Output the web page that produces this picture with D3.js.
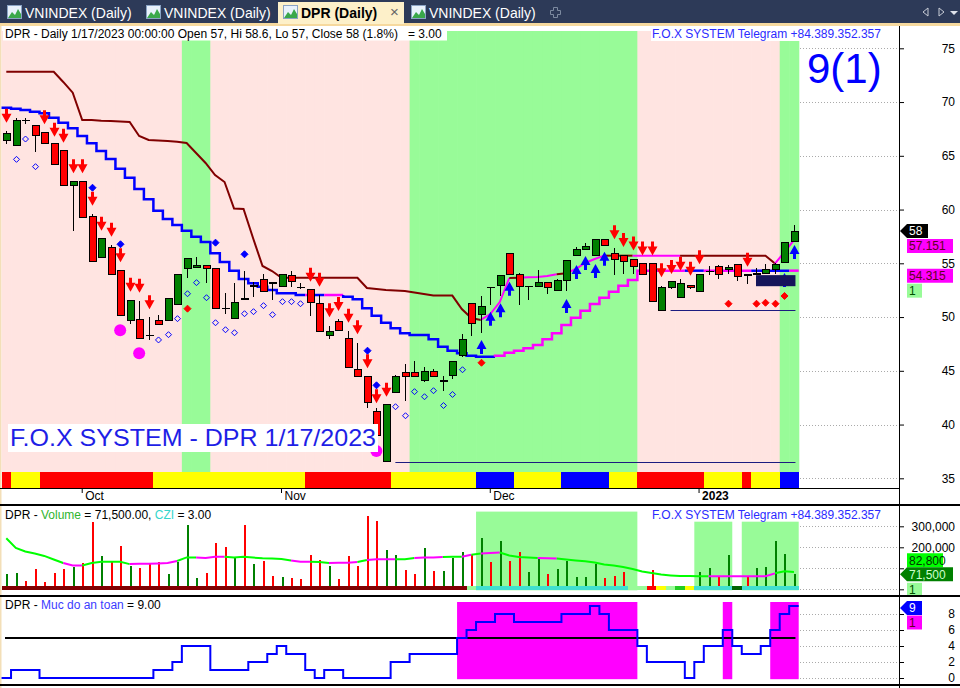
<!DOCTYPE html>
<html lang="en">
<head>
<meta charset="UTF-8">
<title>DPR (Daily)</title>
<script src="https://d3js.org/d3.v7.min.js"></script>
<style>
  body{margin:0;background:#fff;}
  svg{display:block;}
  svg text{font-family:"Liberation Sans",Arial,sans-serif;font-size:12px;}
</style>
</head>
<body>
<div id="chart"></div>
<script>
// trading days shown on the chart
const dates=["2022-09-21","2022-09-22","2022-09-23","2022-09-26","2022-09-27","2022-09-28","2022-09-29","2022-09-30",
"2022-10-03","2022-10-04","2022-10-05","2022-10-06","2022-10-07","2022-10-10","2022-10-11","2022-10-12","2022-10-13","2022-10-14","2022-10-17","2022-10-18","2022-10-19","2022-10-20","2022-10-21","2022-10-24","2022-10-25","2022-10-26","2022-10-27","2022-10-28","2022-10-31",
"2022-11-01","2022-11-02","2022-11-03","2022-11-04","2022-11-07","2022-11-08","2022-11-09","2022-11-10","2022-11-11","2022-11-14","2022-11-15","2022-11-16","2022-11-17","2022-11-18","2022-11-21","2022-11-22","2022-11-23","2022-11-24","2022-11-25","2022-11-28","2022-11-29","2022-11-30",
"2022-12-01","2022-12-02","2022-12-05","2022-12-06","2022-12-07","2022-12-08","2022-12-09","2022-12-12","2022-12-13","2022-12-14","2022-12-15","2022-12-16","2022-12-19","2022-12-20","2022-12-21","2022-12-22","2022-12-23","2022-12-26","2022-12-27","2022-12-28","2022-12-29","2022-12-30",
"2023-01-03","2023-01-04","2023-01-05","2023-01-06","2023-01-09","2023-01-10","2023-01-11","2023-01-12","2023-01-13","2023-01-16","2023-01-17"];

const open=[66.4,65.95,68.3,67.85,67.2,66.1,65.5,62.2,62.6,59.4, 55.5,56.5,54.35,49.7,49.8,48.3,49.7,49.7,51.2,54.55, 54.6,54.8,54.55,50.8,49.9,51.7,52.9,53.5,53.15,52.8, 53.9,52.75,52.6,51.3,48.3,49.6,48.0,45.1,44.5,41.2, 36.55,43.0,44.85,44.85,44.1,44.95,44.05,44.6,46.4,51.3, 50.25,52.75,52.9,55.95,54.0,52.85,52.85,53.25,52.5,53.4, 55.75,56.3,55.75,57.25,55.95,55.75,55.35,54.95,54.95,50.65, 52.75,51.85,52.95,52.4,54.25,54.7,54.4,54.9,53.9,54.0, 54.05,54.45,55.05,57];
const high=[67.3,68.5,68.5,67.85,67.2,66.1,65.5,62.6,62.6,59.6, 57.3,56.7,54.35,51.6,51.5,50.0,50.15,51.75,54.0,55.5, 55.55,54.8,54.55,52.2,53.2,54.3,53.3,54.05,53.3,54.0, 54.3,53.2,52.6,52.05,49.2,49.85,48.7,47.55,44.5,41.5, 41.9,44.6,45.6,45.9,45.4,45.2,44.5,45.9,48.4,51.3, 51.95,52.8,53.9,55.95,54.1,52.85,54.4,53.25,53.5,55.3, 56.5,56.85,57.25,57.3,56.4,55.75,55.4,54.95,54.95,52.9, 53.35,53.55,53.0,54.0,54.75,54.85,54.85,54.9,53.9,54.6, 54.95,55.0,56.95,58.6];
const low=[66.1,65.9,68.0,65.4,66.1,64.2,62.2,58.0,59.25,55.15, 55.5,54.0,50.15,49.4,48.0,47.9,49.3,49.7,51.2,53.6, 54.6,53.2,50.8,50.25,49.9,51.6,51.9,52.4,51.6,52.8, 52.8,52.6,50.1,48.7,48.0,48.75,45.35,44.5,41.5,38.5, 36.55,42.9,42.2,44.4,44.0,44.5,43.15,44.2,46.3,48.2, 48.55,51.15,51.95,54.0,51.15,51.6,52.85,52.1,52.5,52.4, 55.75,56.3,55.75,56.65,53.9,54.0,54.0,53.9,51.45,50.65, 52.6,51.85,52.6,52.4,53.9,53.5,54.05,53.4,53.05,53.9, 54.05,54.0,55.05,57];
const close=[67.1,68.25,68.3,66.9,66.1,64.2,62.2,62.6,59.25,55.15, 57.3,54.0,50.15,51.5,48.0,48.3,49.35,51.75,54.0,55.45, 54.8,54.55,50.8,50.8,51.4,51.7,52.9,52.4,53.15,54.0, 53.35,52.75,51.35,48.7,48.7,48.75,45.35,44.5,42.05,39.0, 41.9,44.5,44.5,44.5,44.95,44.5,44.05,45.9,47.95,49.4, 51.0,52.75,53.9,54.0,52.85,52.85,53.25,52.75,53.4,55.3, 56.3,56.6,57.25,56.65,55.35,55.2,54.7,54.0,51.45,52.75, 53.35,53.15,52.75,54.0,54.25,54.0,54.6,53.8,53.9,54.0, 54.45,54.9,56.95,58];

// trailing stop (dark red / magenta)
const stopLine=[72.82,72.82,72.82,72.82,72.82,72.82,71.87,70.87,68.33,68.33, 68.27,68.24,68.19,68.14,66.84,66.47,66.42,66.38,66.31,66.19, 65.26,64.33,63.21,62.56,60.1,60.05,57.35,54.75,54.28,53.66, 53.66,53.66,53.66,53.66,53.66,53.66,53.66,53.66,52.7,52.61, 52.52,52.47,52.42,52.28,52.14,52.0,52.0,52.0,50.75,49.91, 49.73,50.28,51.4,53.63,53.66,53.7,53.73,53.82,53.98,54.07, 54.47,55.03,55.4,55.71,55.71,55.71,55.71,55.71,55.71,55.71, 55.71,55.71,55.71,55.71,55.71,55.71,55.71,55.71,55.71,55.71, 55.71,54.98,56.05,57.151];
const stopMagenta=[0,0,0,0,0,0,0,0,0,0, 0,0,0,0,0,0,0,0,0,0, 0,0,0,0,0,0,0,0,0,0, 0,0,0,0,0,0,0,0,0,0, 0,0,0,0,0,0,0,0,0,0, 0,1,1,1,0,1,1,1,1,0, 1,1,1,1,0,0,0,1,1,1, 1,1,0,0,0,0,0,0,0,0, 0,0,1,1];
// stepped band line (blue / magenta)
const stepLine=[69.47,69.38,69.26,69.1,68.95,68.54,68.08,67.56,66.84,66.16, 65.45,64.7,63.8,62.96,61.91,60.95,59.89,59.12,58.56,58.03, 57.47,56.98,55.93,55.12,54.31,53.54,53.14,52.82,52.52,52.21, 52.21,52.05,52.05,52.05,52.05,52.05,51.89,51.65,50.81,50.13, 49.47,48.95,48.49,48.33,48.33,47.93,47.24,46.87,46.63,46.4, 46.31,46.31,46.4,46.68,46.87,47.09,47.4,47.93,48.49,49.26, 49.94,50.59,51.21,51.8,52.36,52.92,53.45,54.315,54.315,54.315, 54.315,54.315,54.315,54.315,54.315,54.315,54.315,54.315,54.315,54.315, 54.315,54.315,54.315,54.315];
const stepMagenta=[0,0,0,0,0,0,0,0,0,0, 0,0,0,0,0,0,0,0,0,0, 0,0,0,0,0,0,0,0,0,0, 0,0,1,0,1,1,0,0,0,0, 0,0,0,0,0,0,0,0,0,0, 0,0,1,1,1,1,1,1,1,1, 1,1,1,1,1,1,1,1,1,1, 1,1,0,0,1,1,1,1,1,0, 0,0,0,1];

// background state: runs of green bars, rest pink
const greenRuns=[[19,21],[43,66],[82,83]];
// colour strip under the candles
const trendState="RYYYRRRRRRRRRRRRYYYYYYYYYYYYYYYYRRRRRRRRRYYYYYYYYYBBBBYYYYYBBBBBYYYRRRRRRRYYYYRYYYBB".split("");

// signals: [bar, price]
const downArrows=[[0,68.08],[4,67.93],[5,66.78],[6,66.22],[7,63.37],[8,63.37],[9,60.36],[10,58.03],[11,57.47],[12,55.09],[13,52.36],[14,52.27],[15,50.72],[32,53.29],[33,52.82],[34,49.98],[35,50.56],[36,49.47],[37,48.4],[38,45.23],[39,41.98],[40,42.59],[64,57.23],[65,56.52],[66,56.19],[67,55.73],[68,55.73],[69,53.7],[70,54.0],[71,54.31],[72,53.85],[73,54.91],[78,54.68]];
const upArrows=[[50,47.87],[51,50.5],[52,51.28],[53,53.29],[59,51.68],[60,54.84],[61,55.68],[62,54.93],[63,56.08],[82,54.1],[83,56.7]];
const hollowDiamonds=[[1,64.67],[2,66.56],[3,63.99],[16,47.87],[17,48.36],[18,49.85],[19,52.17],[20,53.2],[21,51.8],[22,49.47],[23,48.82],[24,48.54],[25,50.31],[26,50.5],[27,51.06],[28,50.22],[29,51.43],[30,51.43],[31,51.24],[41,41.66],[42,40.82],[43,43.06],[44,42.59],[45,43.15],[46,41.77],[47,42.8],[48,45.1]];
const blueDots=[[9,62.03],[12,56.77],[22,56.92],[25,55.84],[38,46.87],[39,43.65]];
const redDots=[[19,50.78],[50,45.75],[76,51.24],[79,51.24],[80,51.33],[81,51.24],[82,51.96]];
const magentaDots=[[12,48.77],[14,46.63],[39,37.55]];
const supportLines=[[41,36.55],[70,50.65]];
const darkBox=[79,83,52.87,53.9];

// volume pane
const volume=[73000,78000,40000,97000,35000,78000,97000,105000,127000,322000, 159000,135000,206000,111000,101000,124000,130000,73000,132000,306000, 55000,78000,222000,201000,155000,306000,120000,136000,63000,60000, 55000,50000,163000,140000,111000,50000,159000,111000,349000,327000, 189000,163000,92000,73000,197000,87000,87000,150000,178000,163000, 244000,130000,230000,135000,178000,82000,144000,73000,97000,135000, 59000,59000,120000,54000,63000,82000,4000,6000,92000,8000, 14000,4000,14000,82000,101000,63000,163000,8000,63000,101000, 106000,230000,168000,71500];
const volumeUp=[1,1,0,0,0,0,0,1,0,0, 1,0,0,1,0,0,0,1,1,1, 1,0,0,0,1,0,1,0,0,1, 0,0,0,0,1,0,0,0,0,0, 1,1,0,0,1,0,1,1,1,0, 1,0,1,0,0,1,1,0,1,1, 1,1,1,0,0,0,0,0,0,1, 1,1,0,1,1,0,1,0,0,1, 1,1,1,1];
const volumeMA=[243000,197000,180000,170000,159000,142000,125000,113000,113000,125000, 131000,131000,131000,120000,122000,122000,123000,125000,135000,152000, 151000,149000,155000,155000,151000,155000,151000,148000,147000,144000, 137000,131000,131000,130000,125000,127000,127000,130000,140000,143000, 143000,143000,143000,149000,152000,152000,154000,155000,155000,165000, 171000,173000,175000,161000,154000,151000,149000,148000,147000,142000, 137000,133000,128000,118000,113000,106000,97000,85000,78000,70000, 66000,63000,63000,62000,62000,62000,62000,62000,62000,62000, 62000,76000,86000,82800];
const volumeMAMagenta=[0,0,0,0,0,0,0,1,1,0, 0,0,0,0,1,1,1,1,1,0, 0,1,1,1,0,0,0,0,0,0, 0,1,1,0,0,1,1,1,0,1, 1,1,0,0,1,1,1,0,0,1, 0,1,1,0,0,0,0,1,1,0, 0,0,0,0,0,0,0,0,0,0, 0,0,0,0,0,1,1,1,1,1, 1,1,0,0];
const volumeRuns=[[50,66,370000],[73,76,322000],[78,83,322000]];
const czi="DDDDDDDDDDDDDDDDDDDDDDDDDDDDDDDDDDDDDDDDDDDDDDDDDLCCCCCCCCCCCCCCCCLLRYLGYCCCCKCCCCCC".split("");

// safety level pane
const safety=[0,1,1,1,0,0,0,0,0,0, 0,0,0,0,0,0,1,1,2,4, 4,4,1,1,1,1,2,2,3,4, 3,3,1,0,1,1,0,0,0,0, 0,2,2,3,3,3,3,3,5,6, 7,7,8,8,7,7,7,7,7,8, 8,8,9,8,6,6,6,4,2,2, 2,2,0,2,4,4,6,4,3,3, 4,6,8,9];

const priceTicks=[35,40,45,50,55,60,65,70,75];
const volumeTicks=[0,100000,200000,300000];
const volumeLabels=[200000,300000];
const safetyTicks=[0,2,4,6,8];

const svg=d3.select('#chart').append('svg').attr('width',960).attr('height',688);

// scales
const x=d3.scaleBand().domain(dates).range([1.55,798.7]);
const bw=x.bandwidth();
const cx=i=>x(dates[i])+bw/2;
const L=i=>x(dates[i]);
const R=i=>x(dates[i])+bw;
const y=d3.scaleLinear().domain([35,75]).range([478.3,48.3]);
const vy=d3.scaleLinear().domain([0,300000]).range([589.3,526.3]);
const sy=d3.scaleLinear().domain([0,8]).range([678,614]);
const snap=v=>Math.round(v)+0.5;
const FONT='"Liberation Sans",Arial,sans-serif';

function runsOf(flags){
	const runs=[];let s=0;
	for(let i=1;i<=flags.length;i++){
		if(i===flags.length||flags[i]!==flags[s]){runs.push([s,i-1,flags[s]]);s=i;}
	}
	return runs;
}
function stepPath(vals,sc,a,b){
	const pts=[];
	if(a>0) pts.push([L(a),sc(vals[a-1])]);
	for(let k=a;k<=b;k++){pts.push([L(k),sc(vals[k])]);pts.push([R(k),sc(vals[k])]);}
	return d3.line()(pts);
}
function polyPath(vals,sc,a,b){
	const pts=[];
	for(let k=Math.max(a-1,0);k<=b;k++) pts.push([cx(k),sc(vals[k])]);
	return d3.line()(pts);
}

// ---------- tab strip ----------
svg.append('rect').attr('width',960).attr('height',26).attr('fill','#2d3a58');
svg.append('rect').attr('y',23).attr('width',960).attr('height',3).attr('fill','#f6d99e');
const tabs=[{name:'VNINDEX (Daily)',x:3},{name:'VNINDEX (Daily)',x:142},{name:'DPR (Daily)',x:279,active:true},{name:'VNINDEX (Daily)',x:407}];
tabs.forEach(t=>{
	if(t.active) svg.append('rect').attr('x',t.x-1).attr('y',2).attr('width',126).attr('height',22).attr('fill','#fdf0c9');
	svg.append('rect').attr('x',t.x+4.5).attr('y',5.5).attr('width',14).attr('height',13).attr('fill','#e8f1fb').attr('stroke','#8aa3c4');
	svg.append('path').attr('d',`M${t.x+5},18 L${t.x+9},12 L${t.x+12},15 L${t.x+15},9 L${t.x+18},14 L${t.x+18},18 Z`).attr('fill','#3aa84a');
	svg.append('text').attr('x',t.x+22).attr('y',18).text(t.name)
		.style('font-size','14px').style('font-weight',t.active?'bold':'normal').attr('fill',t.active?'#000':'#fff');
});
svg.append('text').attr('x',390).attr('y',17).text('×').style('font-size','15px').attr('fill','#666');
svg.append('path').attr('d','M553.5,7.5 h4 v3 h3 v4 h-3 v3 h-4 v-3 h-3 v-4 h3 Z').attr('fill','none').attr('stroke','#7d8aa0');
svg.append('path').attr('d','M928,8 L923,12 L928,16 Z').attr('fill','none').attr('stroke','#c8ccd6');
svg.append('path').attr('d','M939,8 L944,12 L939,16 Z').attr('fill','none').attr('stroke','#c8ccd6');
svg.append('path').attr('d','M950,11 L958,11 L954,15 Z').attr('fill','#dde1ea');

// ---------- main pane ----------
svg.append('rect').attr('y',26).attr('width',960).attr('height',662).attr('fill','#fff');
svg.append('rect').attr('x',0).attr('y',26).attr('width',1.5).attr('height',662).attr('fill','#f3dfb8');

const isGreen=i=>greenRuns.some(r=>i>=r[0]&&i<=r[1]);
svg.append('g').selectAll('rect').data(dates).join('rect')
	.attr('x',d=>x(d)).attr('y',31).attr('width',bw+0.6).attr('height',441)
	.attr('fill',(d,i)=>isGreen(i)?'#98fb98':'#ffe4e1');

// gridlines in the empty right area
const grid=svg.append('g').attr('stroke','#aaa').attr('stroke-dasharray','1,2');
grid.selectAll('line.p').data(priceTicks).join('line').attr('class','p')
	.attr('x1',800).attr('x2',897).attr('y1',d=>snap(y(d))).attr('y2',d=>snap(y(d)));
grid.selectAll('line.v').data(volumeTicks).join('line').attr('class','v')
	.attr('x1',800).attr('x2',897).attr('y1',d=>snap(vy(d))).attr('y2',d=>snap(vy(d)));
grid.selectAll('line.s').data(safetyTicks).join('line').attr('class','s')
	.attr('x1',800).attr('x2',897).attr('y1',d=>snap(sy(d))).attr('y2',d=>snap(sy(d)));

// support lines
svg.append('g').selectAll('line').data(supportLines).join('line')
	.attr('x1',d=>cx(d[0])).attr('x2',cx(dates.length-1)+1.5)
	.attr('y1',d=>snap(y(d[1]))).attr('y2',d=>snap(y(d[1])))
	.attr('stroke','#1c1c80').attr('stroke-width',1);

// stepped line
runsOf(stepMagenta).forEach(r=>{
	svg.append('path').attr('d',stepPath(stepLine,y,r[0],r[1])).attr('fill','none')
		.attr('stroke',r[2]?'#ff00ff':'#0000ff').attr('stroke-width',2.5);
});
// trailing stop line
runsOf(stopMagenta).forEach(r=>{
	svg.append('path').attr('d',polyPath(stopLine,y,r[0],r[1])).attr('fill','none')
		.attr('stroke',r[2]?'#ff00ff':'#800000').attr('stroke-width',2);
});

// candles
const candles=svg.append('g').attr('shape-rendering','crispEdges');
const idx=d3.range(dates.length);
candles.selectAll('line.w').data(idx).join('line').attr('class','w')
	.attr('x1',i=>Math.round(cx(i))+0.5).attr('x2',i=>Math.round(cx(i))+0.5)
	.attr('y1',i=>y(high[i])).attr('y2',i=>y(low[i])).attr('stroke','#000');
candles.selectAll('rect').data(idx.filter(i=>open[i]!==close[i])).join('rect')
	.attr('x',i=>Math.round(cx(i))-3).attr('width',7)
	.attr('y',i=>y(Math.max(open[i],close[i])))
	.attr('height',i=>Math.max(1,Math.abs(y(open[i])-y(close[i]))))
	.attr('fill',i=>close[i]>open[i]?'#008000':'#ff0000').attr('stroke','#000');
candles.selectAll('line.d').data(idx.filter(i=>open[i]===close[i])).join('line').attr('class','d')
	.attr('x1',i=>Math.round(cx(i))-3.5).attr('x2',i=>Math.round(cx(i))+4.5)
	.attr('y1',i=>y(open[i])).attr('y2',i=>y(open[i])).attr('stroke','#000').attr('stroke-width',1.5);

// markers
svg.append('g').selectAll('path').data(downArrows).join('path')
	.attr('d',d=>{const c=Math.round(cx(d[0]))+0.5,t=y(d[1]);return `M${c-1.5},${t-14} h3 v5 h3.5 L${c},${t} L${c-5},${t-9} h3.5 Z`;})
	.attr('fill','#ff0000');
svg.append('g').selectAll('path').data(upArrows).join('path')
	.attr('d',d=>{const c=Math.round(cx(d[0]))+0.5,t=y(d[1]);return `M${c-1.5},${t+14} h3 v-5 h3.5 L${c},${t} L${c-5},${t+9} h3.5 Z`;})
	.attr('fill','#0000ff');
const diamond=(d,r)=>{const c=Math.round(cx(d[0]))+0.5,m=y(d[1]);return `M${c},${m-r} L${c+r},${m} L${c},${m+r} L${c-r},${m} Z`;};
svg.append('g').selectAll('path').data(hollowDiamonds).join('path')
	.attr('d',d=>diamond(d,3)).attr('fill','none').attr('stroke','#0000ff');
svg.append('g').selectAll('path').data(blueDots).join('path')
	.attr('d',d=>diamond(d,3.5)).attr('fill','#0000ff').attr('stroke','#0000ff');
svg.append('g').selectAll('path').data(redDots).join('path')
	.attr('d',d=>diamond(d,3.5)).attr('fill','#ff0000').attr('stroke','#ff0000');
svg.append('g').selectAll('circle').data(magentaDots).join('circle')
	.attr('cx',d=>cx(d[0])).attr('cy',d=>y(d[1])).attr('r',6).attr('fill','#ff00ff');
svg.append('rect').attr('x',cx(darkBox[0])).attr('y',y(darkBox[3]))
	.attr('width',cx(darkBox[1])+1.5-cx(darkBox[0])).attr('height',y(darkBox[2])-y(darkBox[3]))
	.attr('fill','#15155a');

// trend strip
svg.append('g').attr('shape-rendering','crispEdges').selectAll('rect').data(dates).join('rect')
	.attr('x',d=>x(d)).attr('y',472).attr('width',bw+0.6).attr('height',15.5)
	.attr('fill',(d,i)=>({R:'#ff0000',Y:'#ffff00',B:'#0000ff'})[trendState[i]]);

// texts on main pane
svg.append('rect').attr('x',3).attr('y',27).attr('width',444).attr('height',13.5).attr('fill','#fff');
svg.append('text').attr('x',5).attr('y',37.5).attr('fill','#000')
	.text('DPR - Daily 1/17/2023 00:00:00 Open 57, Hi 58.6, Lo 57, Close 58 (1.8%)   = 3.00').style('white-space','pre');
svg.append('rect').attr('x',651).attr('y',28).attr('width',231).attr('height',13).attr('fill','#fff');
svg.append('text').attr('x',652).attr('y',38).attr('fill','#2b2bff').text('F.O.X SYSTEM Telegram +84.389.352.357');
svg.append('text').attr('x',807).attr('y',83).attr('fill','#0000ff').style('font-size','42px').text('9(1)');
svg.append('rect').attr('x',8).attr('y',424).attr('width',370).attr('height',28).attr('fill','#fff');
svg.append('text').attr('x',10).attr('y',446).attr('fill','#1e1ee6').style('font-size','24px')
	.attr('textLength',366).attr('lengthAdjust','spacingAndGlyphs').text('F.O.X SYSTEM - DPR 1/17/2023');

// date axis
const monthStarts=dates.filter((d,i)=>i>0&&d.slice(5,7)!==dates[i-1].slice(5,7));
const xAxis=d3.axisBottom(x).tickValues(monthStarts).tickSize(5)
	.tickFormat(d=>d.slice(5,7)==='01'?d.slice(0,4):d3.timeFormat('%b')(new Date(d+'T00:00')));
svg.append('g').attr('transform','translate(0,488)').call(xAxis)
	.call(g=>g.select('.domain').remove())
	.call(g=>g.selectAll('text').attr('text-anchor','start').attr('x',3).attr('y',3).attr('dy','0.75em')
		.style('font-size','12px').style('font-family',FONT)
		.style('font-weight',d=>d.slice(5,7)==='01'?'bold':'normal'));

// right price axis
const yAxis=d3.axisRight(y).tickValues(priceTicks).tickSize(5);
svg.append('g').attr('transform','translate(899,0)').call(yAxis)
	.call(g=>g.select('.domain').remove())
	.call(g=>g.selectAll('text').attr('x',56).attr('text-anchor','end')
		.style('font-size','12px').style('font-family',FONT));

// value labels on the axis
function tag(cy,label,fill,color,arrow,x1){
	const top=cy-7,bot=cy+7;
	const p=arrow?`M900,${cy} L907,${top} L${x1},${top} L${x1},${bot} L907,${bot} Z`:`M907,${top} L${x1},${top} L${x1},${bot} L907,${bot} Z`;
	svg.append('path').attr('d',p).attr('fill',fill);
	svg.append('text').attr('x',909).attr('y',cy+4.3).attr('fill',color).style('font-size','12px').text(label);
}
const c1=y(close[close.length-1]);
tag(c1,'58','#000','#fff',true,928);
const c2=Math.max(y(stopLine[83]),c1+15);
tag(c2,'57.151','#ff00ff','#600020',false,953);
const c3=Math.max(y(stepLine[83]),c2+15)+5;
tag(c3,'54.315','#ff00ff','#600020',false,953);
tag(c3+15,'1','#98fb98','#005000',false,922);

// ---------- volume pane ----------
svg.append('g').selectAll('rect').data(volumeRuns).join('rect')
	.attr('x',d=>L(d[0])).attr('width',d=>R(d[1])-L(d[0])).attr('y',d=>vy(d[2])).attr('height',d=>vy(0)+1-vy(d[2]))
	.attr('fill','#98fb98');
svg.append('g').attr('shape-rendering','crispEdges').selectAll('line').data(idx).join('line')
	.attr('x1',i=>Math.round(cx(i))+1).attr('x2',i=>Math.round(cx(i))+1)
	.attr('y1',vy(0)).attr('y2',i=>vy(volume[i]))
	.attr('stroke',i=>volumeUp[i]?'#008000':'#ff0000').attr('stroke-width',2);
runsOf(volumeMAMagenta).forEach(r=>{
	svg.append('path').attr('d',polyPath(volumeMA,vy,r[0],r[1])).attr('fill','none')
		.attr('stroke',r[2]?'#ff00ff':'#00ff00').attr('stroke-width',2);
});
const cziColor={D:'#800000',L:'#98fb98',C:'#40e0d0',R:'#ff0000',Y:'#ffff00',G:'#22cc22',K:'#006400'};
svg.append('g').attr('shape-rendering','crispEdges').selectAll('rect').data(dates).join('rect')
	.attr('x',d=>x(d)).attr('y',586).attr('width',bw+0.6).attr('height',3.5)
	.attr('fill',(d,i)=>cziColor[czi[i]]);

const vt=svg.append('text').attr('x',5).attr('y',518.5);
vt.append('tspan').attr('fill','#000').text('DPR - ');
vt.append('tspan').attr('fill','#2fb52f').text('Volume');
vt.append('tspan').attr('fill','#000').text(' = 71,500.00, ');
vt.append('tspan').attr('fill','#33d6cc').text('CZI');
vt.append('tspan').attr('fill','#000').text(' = 3.00');
svg.append('text').attr('x',652).attr('y',518.5).attr('fill','#2b2bff').text('F.O.X SYSTEM Telegram +84.389.352.357');

// volume axis: the 100,000 label sits under the value tags
const vAxis=d3.axisRight(vy).tickValues(volumeTicks).tickSize(5)
	.tickFormat(d=>volumeLabels.includes(d)?d3.format(',')(d):'');
svg.append('g').attr('transform','translate(899,0)').call(vAxis)
	.call(g=>g.select('.domain').remove())
	.call(g=>g.selectAll('text').attr('x',56).attr('text-anchor','end')
		.style('font-size','12px').style('font-family',FONT));
const vc=vy(volume[83]);
tag(vc-14,'82,800','#00ff00','#003300',false,943);
tag(vc,'71,500','#008000','#ccffcc',true,953);
tag(vy(0)+0.5,'1','#98fb98','#005000',false,922);

// ---------- safety pane ----------
runsOf(safety.map(v=>v>=5?1:0)).filter(r=>r[2]).forEach(r=>{
	svg.append('rect').attr('x',L(r[0])).attr('width',R(r[1])-L(r[0]))
		.attr('y',sy(9.5)).attr('height',sy(-0.15)-sy(9.5)).attr('fill','#ff00ff');
});
svg.append('line').attr('x1',5).attr('x2',cx(83)+1.5).attr('y1',sy(5)).attr('y2',sy(5))
	.attr('stroke','#000').attr('stroke-width',2);
svg.append('path').attr('d',stepPath(safety,sy,0,safety.length-1)).attr('fill','none')
	.attr('stroke','#0000ff').attr('stroke-width',2);
const st=svg.append('text').attr('x',5).attr('y',608.5);
st.append('tspan').attr('fill','#000').text('DPR - ');
st.append('tspan').attr('fill','#3b3bff').text('Muc do an toan');
st.append('tspan').attr('fill','#000').text(' = 9.00');
const sAxis=d3.axisRight(sy).tickValues(safetyTicks).tickSize(5);
svg.append('g').attr('transform','translate(899,0)').call(sAxis)
	.call(g=>g.select('.domain').remove())
	.call(g=>g.selectAll('text').attr('x',56).attr('text-anchor','end')
		.style('font-size','12px').style('font-family',FONT));
tag(sy(9)+2,'9','#0000ff','#fff',true,922);
tag(sy(9)+16.5,'1','#ff00ff','#600020',false,922);

// frame lines
const frame=svg.append('g').attr('stroke','#000').attr('shape-rendering','crispEdges');
frame.append('line').attr('x1',0).attr('x2',899).attr('y1',488).attr('y2',488);
frame.append('line').attr('x1',0).attr('x2',960).attr('y1',505).attr('y2',505).attr('stroke-width',1.5);
frame.append('line').attr('x1',0).attr('x2',960).attr('y1',595.5).attr('y2',595.5).attr('stroke-width',2);
frame.append('line').attr('x1',0).attr('x2',960).attr('y1',685).attr('y2',685).attr('stroke-width',1.5);
frame.append('line').attr('x1',899.5).attr('x2',899.5).attr('y1',26).attr('y2',688);
</script>
</body>
</html>
